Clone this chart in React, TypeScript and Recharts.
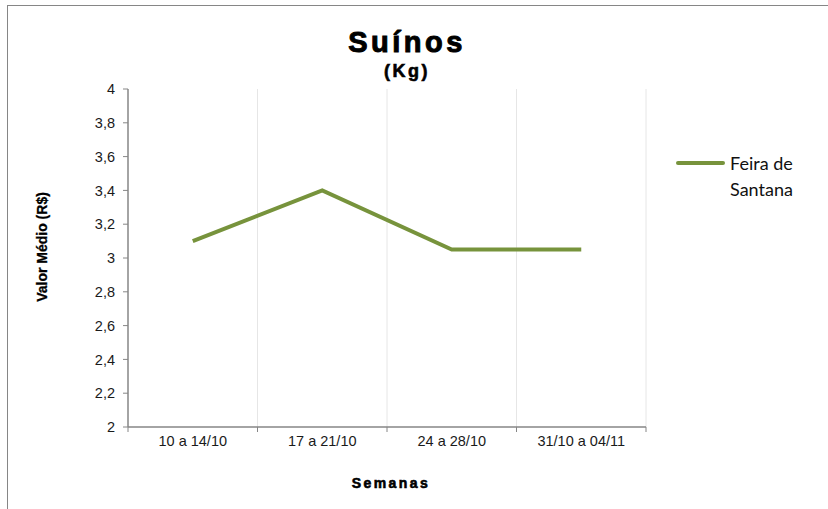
import { LineChart, Line, XAxis, YAxis, CartesianGrid } from "recharts";

// semanas e valores (R$/Kg)
const semanas = ["10 a 14/10", "17 a 21/10", "24 a 28/10", "31/10 a 04/11"];
const feiraDeSantana = [3.1, 3.4, 3.05, 3.05];
const yTicks = [2, 2.2, 2.4, 2.6, 2.8, 3, 3.2, 3.4, 3.6, 3.8, 4];

const data = semanas.map((s, i) => ({ semana: s, feira: feiraDeSantana[i] }));

const W = 828;
const H = 509;
const margin = { top: 89, right: 182, bottom: 52, left: 68 };
const plotW = W - margin.left - margin.right - 60;
const bw = plotW / semanas.length;
const tickFont = "Liberation Sans, Arial";

const XTick = (props: any) => {
  const { x, y, payload, index } = props;
  const left = x - bw / 2;
  return (
    <g>
      <line x1={left} x2={left} y1={y - 8} y2={y - 3} stroke="#868686" />
      {index === semanas.length - 1 && (
        <line x1={x + bw / 2} x2={x + bw / 2} y1={y - 8} y2={y - 3} stroke="#868686" />
      )}
      <text x={x} y={y + 11} textAnchor="middle" fontSize={14.5} fill="#1a1a1a" fontFamily={tickFont}>
        {payload.value}
      </text>
    </g>
  );
};

const LegendBox = () => (
  <div style={{ position: "absolute", left: 676, top: 150, width: 150, height: 60, fontFamily: "Lato, Carlito, sans-serif", fontSize: 18, color: "#111" }}>
    <div style={{ position: "absolute", left: 0, top: 11, width: 49, height: 4, background: "#77933C", borderRadius: 2 }} />
    <div style={{ position: "absolute", left: 54, top: 0, lineHeight: "26px" }}>
      Feira de
      <br />
      Santana
    </div>
  </div>
);

const bold = { fontFamily: "Liberation Sans, Arial", fontWeight: 700, color: "#000", WebkitTextStroke: "0.6px #000" } as const;

export default function App() {
  return (
    <div style={{ position: "fixed", left: 0, top: 0, width: W, height: H, overflow: "hidden", background: "#fff" }}>
      <div style={{ position: "absolute", left: 7, top: 5, width: 900, height: 600, border: "1.5px solid #868686" }} />
      <div style={{ position: "absolute", left: 0, top: 0 }}>
        <LineChart width={W} height={H} data={data} margin={margin}>
          <CartesianGrid
            horizontal={false}
            stroke="#e6e6e6"
            verticalCoordinatesGenerator={({ offset }: any) =>
              semanas.map((_, i) => offset.left + (offset.width / semanas.length) * (i + 1))
            }
          />
          <XAxis
            dataKey="semana"
            scale="band"
            interval={0}
            tickLine={false}
            axisLine={{ stroke: "#868686", strokeWidth: 1.5 }}
            tick={<XTick />}
          />
          <YAxis
            domain={[2, 4]}
            ticks={yTicks}
            interval={0}
            width={60}
            tickSize={5}
            tickMargin={8}
            axisLine={{ stroke: "#868686", strokeWidth: 1.5 }}
            tickLine={{ stroke: "#868686" }}
            tickFormatter={(v: number) => String(v).replace(".", ",")}
            tick={{ fontSize: 14.5, fill: "#1a1a1a", fontFamily: tickFont }}
          />
          <Line
            type="linear"
            dataKey="feira"
            name="Feira de Santana"
            stroke="#77933C"
            strokeWidth={4}
            dot={false}
            isAnimationActive={false}
          />
        </LineChart>
      </div>
      <LegendBox />
      <div style={{ ...bold, position: "absolute", left: 0, width: 814, top: 24, textAlign: "center", fontSize: 29, letterSpacing: 3.5, lineHeight: "36px", WebkitTextStroke: "1px #000" }}>
        Suínos
      </div>
      <div style={{ ...bold, position: "absolute", left: 0, width: 814, top: 60, textAlign: "center", fontSize: 18, letterSpacing: 2.5, lineHeight: "22px" }}>
        (Kg)
      </div>
      <div style={{ ...bold, position: "absolute", left: 0, width: 782, top: 475, textAlign: "center", fontSize: 14, letterSpacing: 2.4 }}>
        Semanas
      </div>
      <div style={{ ...bold, position: "absolute", left: 42, top: 247, transform: "translate(-50%, -50%) rotate(-90deg)", whiteSpace: "nowrap", fontSize: 14, WebkitTextStroke: "0.3px #000" }}>
        Valor Médio (R$)
      </div>
    </div>
  );
}
